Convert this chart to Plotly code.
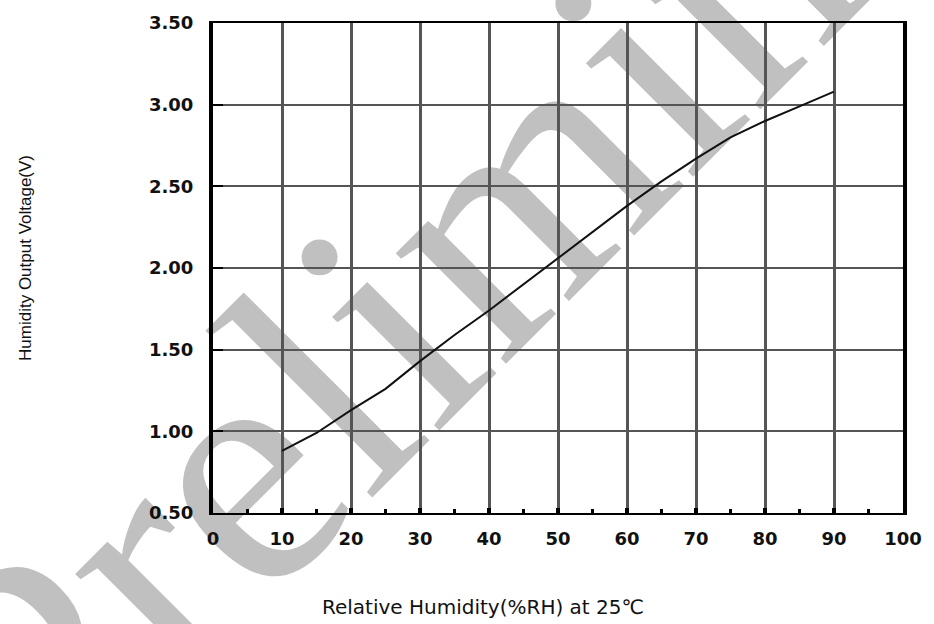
import plotly.graph_objects as go

# ---- data ----
humidity = [10, 15, 20, 25, 30, 35, 40, 45, 50, 55, 60, 65, 70, 75, 80, 85, 90]
voltage = [0.88, 0.99, 1.13, 1.26, 1.43, 1.59, 1.74, 1.90, 2.06, 2.22,
           2.38, 2.53, 2.67, 2.80, 2.90, 2.99, 3.08]
x_ticks = [0, 10, 20, 30, 40, 50, 60, 70, 80, 90, 100]
x_tick_labels = ["0", "10", "20", "30", "40", "50", "60", "70", "80", "90", "100"]
y_ticks = [0.5, 1.0, 1.5, 2.0, 2.5, 3.0, 3.5]
y_tick_labels = ["0.50", "1.00", "1.50", "2.00", "2.50", "3.00", "3.50"]
x_title = "Relative Humidity(%RH) at 25℃"
y_title = "Humidity Output Voltage(V)"
watermark = "Preliminary"

W, H = 934, 624
L, R, T, B = 213, 26, 18, 111
PW, PH = W - L - R, H - T - B


def px_to_paper(px, py):
    return (px - L) / PW, (H - B - py) / PH


fig = go.Figure()

# watermark, drawn in a hidden pixel-space subplot underneath the chart grid
wx, wy = 536, 171
fig.add_trace(go.Bar(
    x=[wx], y=[2], base=[wy - 1], width=[2],
    xaxis="x", yaxis="y",
    marker=dict(color="rgba(0,0,0,0)", line=dict(width=0)),
    text=[watermark], textposition="inside", insidetextanchor="middle",
    textangle=-45, constraintext="none", cliponaxis=False,
    textfont=dict(family="Liberation Serif, Times New Roman, serif",
                  size=340, color="#c0c0c0"),
    hoverinfo="skip", showlegend=False,
))

# the curve
fig.add_trace(go.Scatter(
    x=humidity, y=voltage, mode="lines",
    xaxis="x2", yaxis="y2",
    line=dict(color="#111111", width=2),
    showlegend=False,
))

tick_font = dict(family="DejaVu Sans", size=18, color="#111111", weight="bold")

fig.update_layout(
    width=W, height=H,
    margin=dict(l=L, r=R, t=T, b=B),
    paper_bgcolor="white",
    plot_bgcolor="rgba(0,0,0,0)",
    showlegend=False,
    xaxis=dict(domain=[0, 1], range=[L, W - R], visible=False, fixedrange=True),
    yaxis=dict(domain=[0, 1], range=[H - B, T], visible=False, fixedrange=True),
    xaxis2=dict(
        domain=[0, 1], anchor="y2", range=[0, 100],
        tickmode="array", tickvals=x_ticks, ticktext=x_tick_labels,
        showgrid=True, gridcolor="#555555", gridwidth=3,
        showline=True, linecolor="black", linewidth=2, mirror=True,
        ticks="inside", ticklen=5, tickwidth=4, tickcolor="black",
        minor=dict(dtick=5, tick0=0, ticks="inside", ticklen=4, tickwidth=3,
                   tickcolor="black", showgrid=False),
        tickfont=tick_font, ticklabelstandoff=8,
        zeroline=False, fixedrange=True,
    ),
    yaxis2=dict(
        domain=[0, 1], anchor="x2", range=[0.5, 3.5],
        tickmode="array", tickvals=y_ticks, ticktext=y_tick_labels,
        showgrid=True, gridcolor="#555555", gridwidth=2,
        showline=True, linecolor="black", linewidth=4, mirror=True,
        ticks="inside", ticklen=10, tickwidth=2, tickcolor="black",
        tickfont=tick_font, ticklabelstandoff=12,
        zeroline=False, fixedrange=True,
    ),
)

ax, ay = px_to_paper(485, 608)
fig.add_annotation(text=x_title, xref="paper", yref="paper", x=ax, y=ay,
                   xanchor="center", yanchor="middle", showarrow=False,
                   font=dict(family="DejaVu Sans", size=20, color="#111111"))
tx, ty = px_to_paper(24, 255)
fig.add_annotation(text=y_title, xref="paper", yref="paper", x=tx, y=ty,
                   xanchor="center", yanchor="middle", showarrow=False,
                   textangle=-90,
                   font=dict(family="Liberation Sans", size=17, color="#111111"))

fig.write_html("out.html",
               config={"displayModeBar": False, "staticPlot": True},
               post_script="document.body.style.margin='0';"
                           "document.body.style.overflow='hidden';")
